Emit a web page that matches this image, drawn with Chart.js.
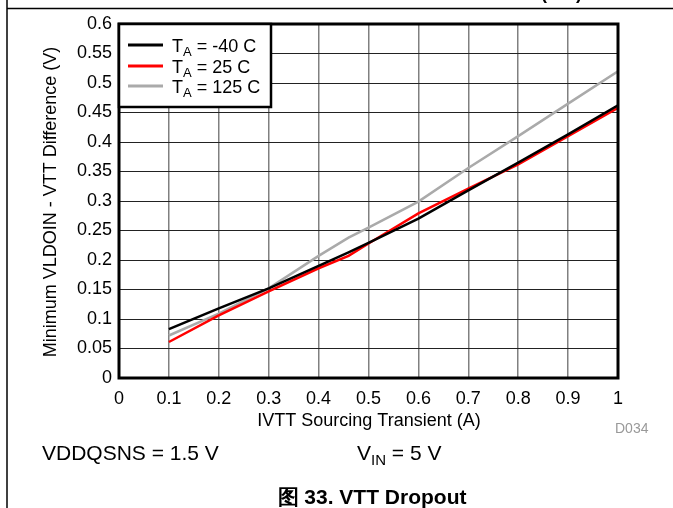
<!DOCTYPE html>
<html>
<head>
<meta charset="utf-8">
<script src="https://cdn.jsdelivr.net/npm/chart.js@4/dist/chart.umd.min.js"></script>
<style>
html,body{margin:0;padding:0;background:#fff;}
#wrap{width:673px;height:508px;position:relative;}
</style>
</head>
<body>
<div id="wrap"><canvas id="c" width="673" height="508"></canvas></div>
<script>
// ---- data ----
const currentA = [0.1, 0.2, 0.3, 0.4, 0.46, 0.5, 0.6, 0.7, 0.8, 0.9, 1.0];
const tMinus40 = [0.083, 0.118, 0.152, 0.190, 0.213, 0.229, 0.270, 0.318, 0.365, 0.413, 0.462];
const t25      = [0.061, 0.106, 0.147, 0.186, 0.207, 0.228, 0.279, 0.321, 0.362, 0.410, 0.458];
const t125     = [0.072, 0.109, 0.152, 0.207, 0.238, 0.255, 0.299, 0.356, 0.410, 0.465, 0.520];
const seriesNames = ["-40 C", "25 C", "125 C"];
const seriesColors = ["#000000", "#ff0000", "#aaaaaa"];
const yTickMax = 0.6, yTickStep = 0.05;
const xTickMax = 1, xTickStep = 0.1;
const xTitle = "IVTT Sourcing Transient (A)";
const yTitle = "Minimum VLDOIN - VTT Difference (V)";
const figId = "D034";
const caption = "图 33. VTT Dropout";

const FONT = "'Liberation Sans', Arial, sans-serif";
function pts(ys){ return currentA.map((x,i)=>({x:x,y:ys[i]})); }
function fmt(v){ return String(Number(v.toFixed(2))); }

const decor = {
  id:'decor',
  afterDatasetsDraw(chart){
    const ctx = chart.ctx, a = chart.chartArea;
    ctx.save();
    // plot border
    ctx.strokeStyle = '#000'; ctx.lineWidth = 3;
    ctx.strokeRect(a.left, a.top, a.right - a.left, a.bottom - a.top);
    // legend box
    const lx = a.left, ly = a.top, lw = 152, lh = 83;
    ctx.fillStyle = '#fff';
    ctx.fillRect(lx, ly, lw, lh);
    ctx.lineWidth = 2.5;
    ctx.strokeRect(lx, ly, lw, lh);
    const rows = [45, 66, 86];
    rows.forEach((y, i) => {
      ctx.strokeStyle = seriesColors[i]; ctx.lineWidth = 3;
      ctx.beginPath(); ctx.moveTo(128, y); ctx.lineTo(163, y); ctx.stroke();
      ctx.fillStyle = '#000';
      ctx.textBaseline = 'alphabetic'; ctx.textAlign = 'left';
      ctx.font = '18px ' + FONT;
      let x = 172;
      ctx.fillText('T', x, y + 6.5); x += ctx.measureText('T').width;
      ctx.font = '13px ' + FONT;
      ctx.fillText('A', x, y + 10.5); x += ctx.measureText('A').width;
      ctx.font = '18px ' + FONT;
      ctx.fillText(' = ' + seriesNames[i], x, y + 6.5);
    });
    ctx.restore();
  },
  afterDraw(chart){
    const ctx = chart.ctx;
    ctx.save();
    // page frame
    ctx.strokeStyle = '#000'; ctx.lineWidth = 1.5;
    ctx.beginPath(); ctx.moveTo(7, 0); ctx.lineTo(7, 508); ctx.stroke();
    ctx.beginPath(); ctx.moveTo(7, 8.5); ctx.lineTo(673, 8.5); ctx.stroke();
    ctx.fillStyle = '#000';
    ctx.font = 'bold 18px ' + FONT; ctx.textAlign = 'left'; ctx.textBaseline = 'alphabetic';
    ctx.fillText('(mA)', 541, -1);
    // axis titles
    ctx.font = '18px ' + FONT;
    ctx.textAlign = 'center'; ctx.textBaseline = 'middle';
    ctx.fillText(xTitle, 369, 421);
    ctx.save();
    ctx.translate(51, 202); ctx.rotate(-Math.PI/2);
    ctx.fillText(yTitle, 0, 0);
    ctx.restore();
    // fig id
    ctx.fillStyle = '#999'; ctx.font = '14px ' + FONT;
    ctx.textAlign = 'left'; ctx.textBaseline = 'alphabetic';
    ctx.fillText(figId, 615, 433);
    // conditions
    ctx.fillStyle = '#000'; ctx.font = '21px ' + FONT;
    ctx.fillText('VDDQSNS = 1.5 V', 42, 460);
    let x = 357;
    ctx.fillText('V', x, 460); x += ctx.measureText('V').width;
    ctx.font = '15px ' + FONT; ctx.fillText('IN', x, 465); x += ctx.measureText('IN').width;
    ctx.font = '21px ' + FONT; ctx.fillText(' = 5 V', x, 460);
    // caption
    ctx.font = 'bold 21px ' + FONT; ctx.textAlign = 'center';
    ctx.fillText(caption, 372, 504);
    ctx.restore();
  }
};

new Chart(document.getElementById('c'), {
  type: 'line',
  data: {
    datasets: [
      {label: seriesNames[0], data: pts(tMinus40), borderColor: seriesColors[0]},
      {label: seriesNames[1], data: pts(t25), borderColor: seriesColors[1]},
      {label: seriesNames[2], data: pts(t125), borderColor: seriesColors[2]}
    ].map(d => Object.assign(d, {borderWidth: 2.5, pointRadius: 0, tension: 0, fill: false}))
  },
  options: {
    responsive: false, animation: false,
    layout: {padding: {left: 0, top: 24, right: 55, bottom: 0}},
    plugins: {legend: {display: false}, tooltip: {enabled: false}},
    scales: {
      x: {
        type: 'linear', min: 0, max: xTickMax,
        ticks: {stepSize: xTickStep, color: '#000', font: {family: FONT, size: 18}, padding: 10, maxRotation: 0, callback: v => fmt(v)},
        grid: {color: '#808080', lineWidth: 1.5, drawTicks: false},
        border: {display: false},
        afterFit: s => { s.height = 130; }
      },
      y: {
        min: 0, max: yTickMax,
        ticks: {stepSize: yTickStep, color: '#000', font: {family: FONT, size: 18}, padding: 7, callback: v => fmt(v)},
        grid: {color: '#222', lineWidth: 1, drawTicks: false},
        border: {display: false},
        afterFit: s => { s.width = 119; }
      }
    }
  },
  plugins: [decor]
});
</script>
</body>
</html>
